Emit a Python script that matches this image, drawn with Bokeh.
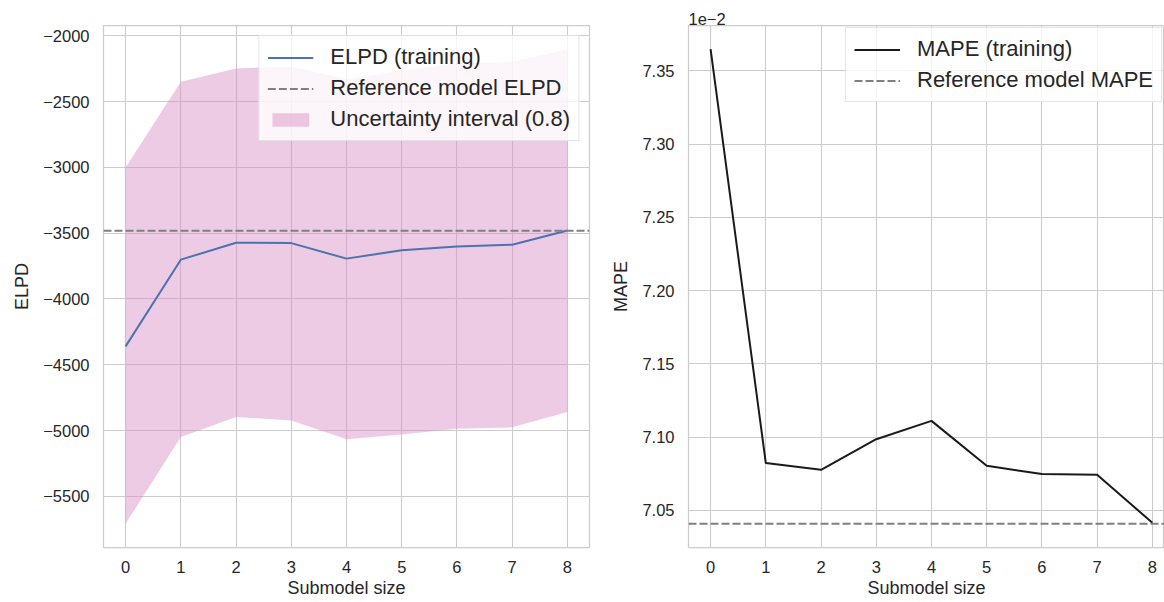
from bokeh.plotting import figure
from bokeh.layouts import row
from bokeh.models import (Legend, LegendItem, FixedTicker, CustomJSTickFormatter, Range1d)
from bokeh.embed import file_html
from bokeh.resources import INLINE

# ---------------- data ----------------
submodel_size = [0, 1, 2, 3, 4, 5, 6, 7, 8]
elpd = [-4360, -3701, -3572, -3575, -3693, -3630, -3600, -3587, -3479]
elpd_upper = [-3000, -2348, -2247, -2234, -2328, -2265, -2210, -2198, -2101]
elpd_lower = [-5709, -5049, -4897, -4923, -5066, -5031, -4986, -4976, -4860]
ref_elpd = -3481
# MAPE in units of 1e-2
mape = [7.3647, 7.0823, 7.0777, 7.0986, 7.1111, 7.0805, 7.0748, 7.0743, 7.0416]
ref_mape = 7.0409
elpd_ticks = [-5500, -5000, -4500, -4000, -3500, -3000, -2500, -2000]
mape_ticks = [7.05, 7.10, 7.15, 7.20, 7.25, 7.30, 7.35]
x_ticks = submodel_size
scale_label = "1e\u22122"

FONT = "Liberation Sans"
TXT = "#262626"
GRID = "#cccccc"


def pad_range(lo, hi, frac=0.05):
    span = hi - lo
    return lo - frac * span, hi + frac * span


def style(p, yticks, yfmt, xlabel, ylabel):
    p.outline_line_color = GRID
    p.outline_line_width = 1.25
    p.background_fill_color = "white"
    p.border_fill_color = "white"
    p.xaxis.ticker = FixedTicker(ticks=x_ticks)
    p.yaxis.ticker = FixedTicker(ticks=yticks)
    p.yaxis.formatter = yfmt
    p.xaxis.axis_label = xlabel
    p.yaxis.axis_label = ylabel
    for ax in (p.xaxis[0], p.yaxis[0]):
        ax.axis_line_color = None
        ax.major_tick_line_color = None
        ax.minor_tick_line_color = None
        ax.major_tick_out = 0
        ax.major_tick_in = 0
        ax.major_label_text_font = FONT
        ax.major_label_text_font_size = "16.5px"
        ax.major_label_text_color = TXT
        ax.axis_label_text_font = FONT
        ax.axis_label_text_font_size = "18px"
        ax.axis_label_text_font_style = "normal"
        ax.axis_label_text_color = TXT
    p.xaxis.major_label_standoff = 13
    p.xaxis.axis_label_standoff = 2
    p.yaxis.major_label_standoff = 14
    p.yaxis.axis_label_standoff = 8
    p.xgrid.ticker = FixedTicker(ticks=x_ticks)
    p.ygrid.ticker = FixedTicker(ticks=yticks)
    for g in (p.xgrid[0], p.ygrid[0]):
        g.grid_line_color = GRID
        g.grid_line_width = 1.1


def make_legend(items, margin):
    lg = Legend(items=items, location="top_right")
    lg.label_text_font = FONT
    lg.label_text_font_size = "22px"
    lg.label_text_color = TXT
    lg.glyph_width = 46
    lg.glyph_height = 17
    lg.label_height = 24
    lg.label_standoff = 17
    lg.spacing = 5
    lg.padding = 8
    lg.margin = margin
    lg.border_line_color = GRID
    lg.border_line_width = 1
    lg.background_fill_color = "white"
    lg.background_fill_alpha = 0.8
    return lg


# ---------------- left: ELPD ----------------
ylo, yhi = pad_range(min(elpd_lower), max(elpd_upper))
x1 = Range1d(-0.4, 8.4)
p1 = figure(width=608, height=602, x_range=x1, y_range=Range1d(ylo, yhi),
            output_backend="svg", toolbar_location=None,
            min_border_left=103, min_border_right=19, min_border_top=25, min_border_bottom=55)
style(p1, elpd_ticks,
      CustomJSTickFormatter(code="return (tick < 0 ? '\\u2212' : '') + Math.abs(tick).toFixed(0);"),
      "Submodel size", "ELPD")

band = p1.varea(x=submodel_size, y1=elpd_lower, y2=elpd_upper,
                fill_color="#DA8BC3", fill_alpha=0.45)
line1 = p1.line(submodel_size, elpd, line_color="#4C72B0", line_width=2)
ref1 = p1.line([x1.start, x1.end], [ref_elpd, ref_elpd], line_color="#808080",
               line_dash="8 3", line_width=2)
p1.add_layout(make_legend([
    LegendItem(label="ELPD (training)", renderers=[line1]),
    LegendItem(label="Reference model ELPD", renderers=[ref1]),
    LegendItem(label="Uncertainty interval (0.8)", renderers=[band]),
], 10))

# ---------------- right: MAPE ----------------
mlo, mhi = pad_range(min(min(mape), ref_mape), max(mape))
x2 = Range1d(-0.4, 8.22)
p2 = figure(width=556, height=602, x_range=x2, y_range=Range1d(mlo, mhi),
            output_backend="svg", toolbar_location=None, title=scale_label,
            min_border_left=80, min_border_right=0, min_border_top=25, min_border_bottom=55)
style(p2, mape_ticks, CustomJSTickFormatter(code="return tick.toFixed(2);"),
      "Submodel size", "MAPE")
p2.title.text_font = FONT
p2.title.text_font_size = "16.5px"
p2.title.text_font_style = "normal"
p2.title.text_color = TXT
p2.title.align = "left"
p2.title.offset = 0
p2.title.standoff = 2

line2 = p2.line(submodel_size, mape, line_color="#1a1a1a", line_width=2)
ref2 = p2.line([x2.start, x2.end + 0.5], [ref_mape, ref_mape], line_color="#808080",
               line_dash="8 3", line_width=2)
p2.add_layout(make_legend([
    LegendItem(label="MAPE (training)", renderers=[line2]),
    LegendItem(label="Reference model MAPE", renderers=[ref2]),
], 2))

layout = row(p1, p2)
open("out.html", "w").write(file_html(layout, INLINE))
